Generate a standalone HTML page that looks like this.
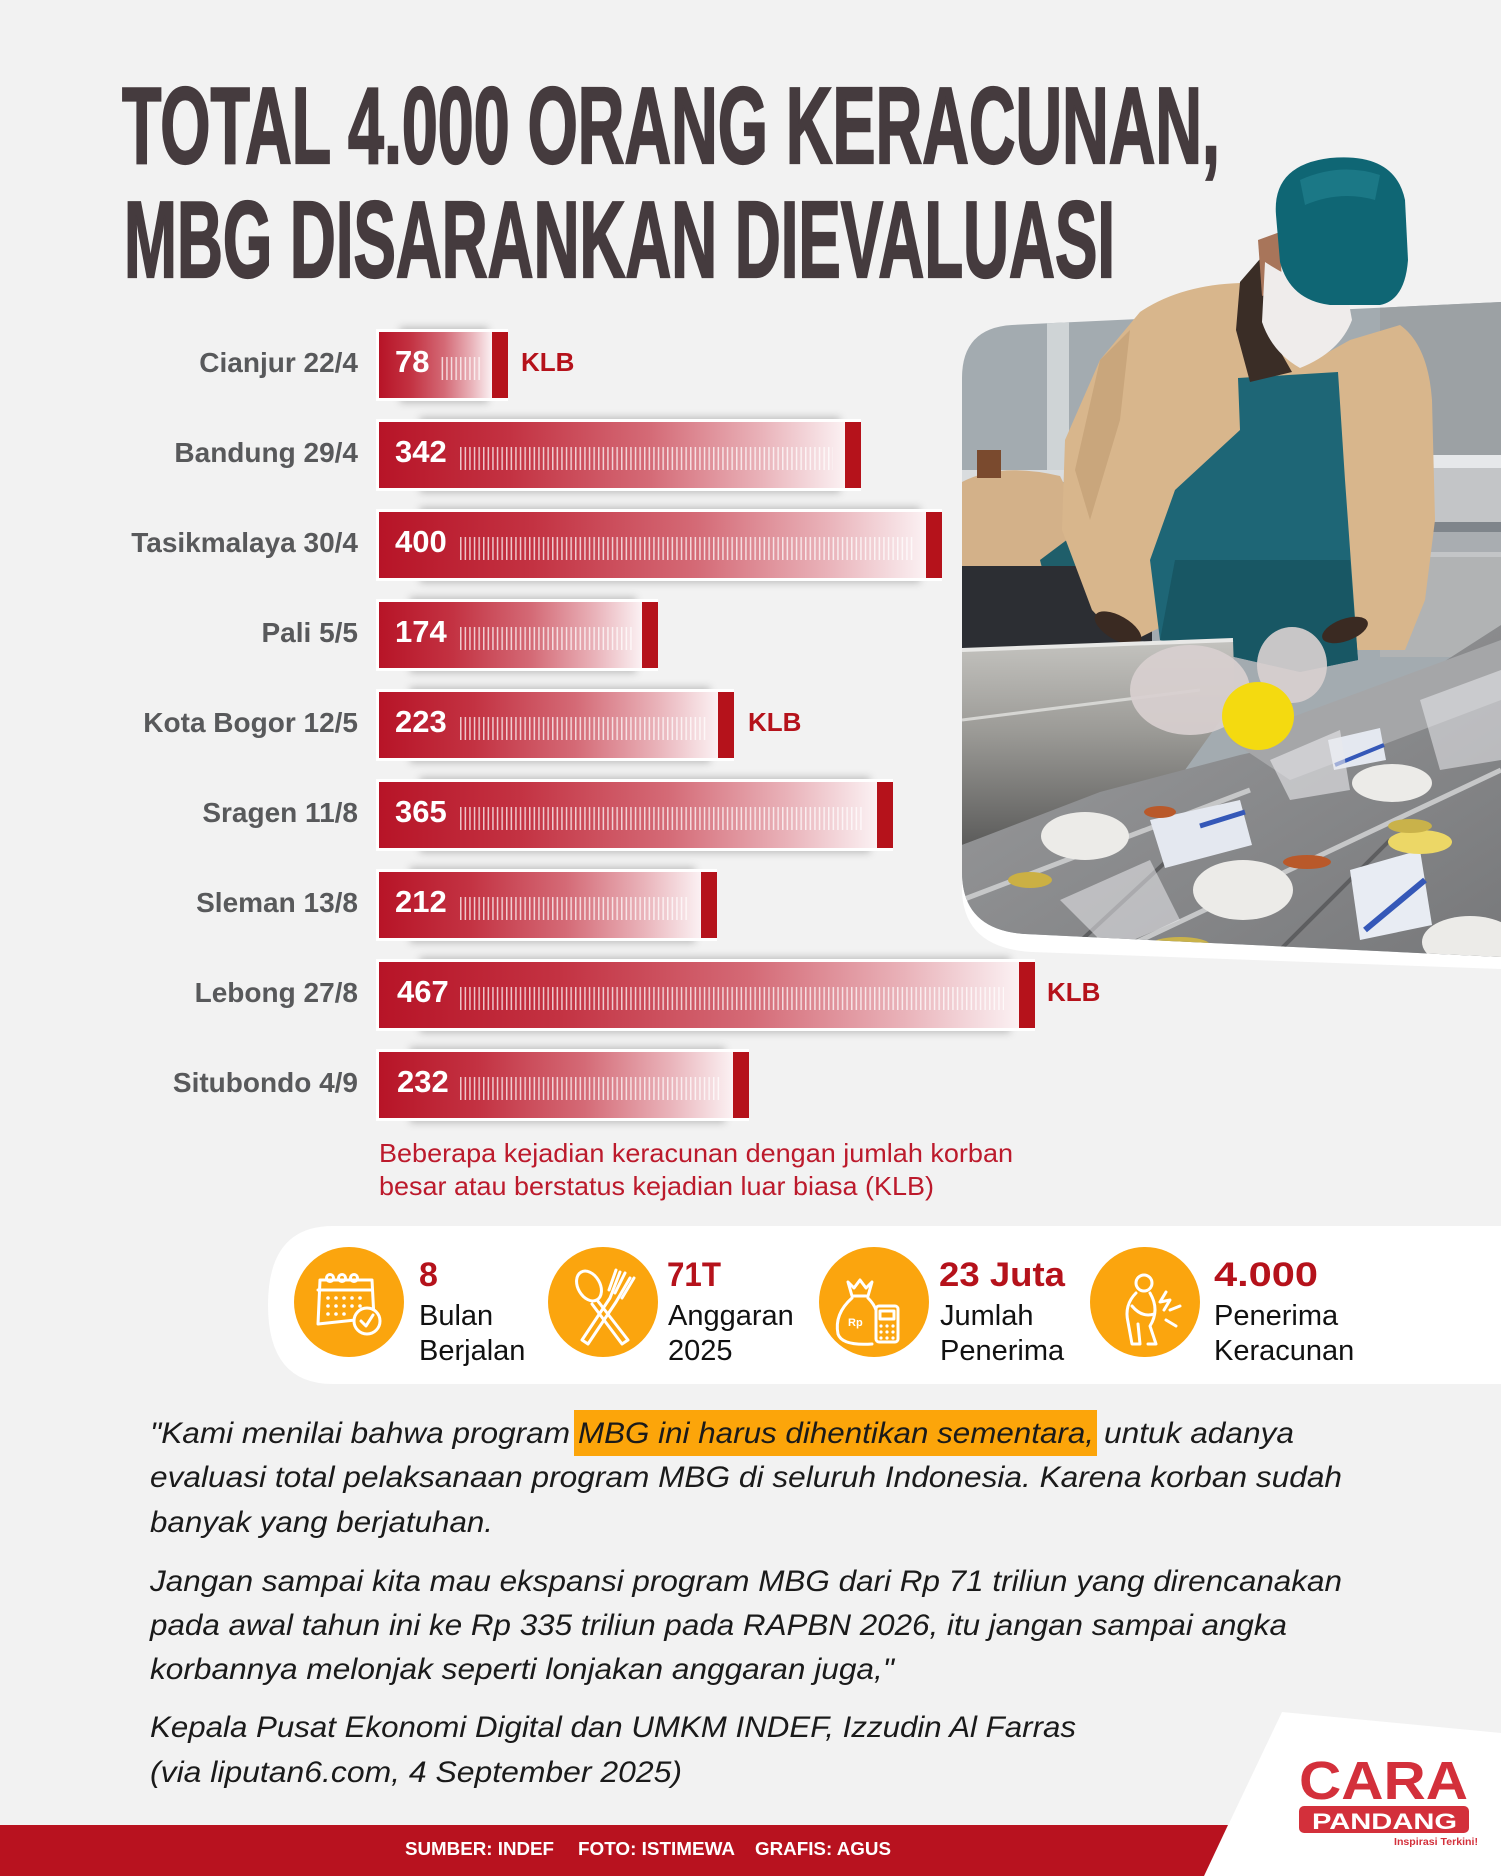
<!DOCTYPE html>
<html>
<head>
<meta charset="utf-8">
<style>
html,body{margin:0;padding:0;background:#f2f2f2;}
svg{display:block;}
</style>
</head>
<body>
<svg xmlns="http://www.w3.org/2000/svg" width="1501" height="1876" viewBox="0 0 1501 1876">
<defs>
  <linearGradient id="barg" x1="0" y1="0" x2="1" y2="0">
    <stop offset="0" stop-color="#b71427"/>
    <stop offset="0.28" stop-color="#c33242"/>
    <stop offset="0.58" stop-color="#d46a76"/>
    <stop offset="0.82" stop-color="#e9b2b9"/>
    <stop offset="1" stop-color="#fbf1f3"/>
  </linearGradient>
  <pattern id="ticks" patternUnits="userSpaceOnUse" x="0" y="0" width="4.6" height="1876">
    <rect x="0" y="0" width="1.5" height="1876" fill="#ffffff" fill-opacity="0.72"/>
  </pattern>
  <filter id="sh" x="-20%" y="-60%" width="140%" height="220%">
    <feGaussianBlur stdDeviation="4"/>
  </filter>
  <linearGradient id="pan" x1="0" y1="0" x2="0" y2="1">
    <stop offset="0" stop-color="#c4c3bf"/>
    <stop offset="0.45" stop-color="#9b9a96"/>
    <stop offset="1" stop-color="#5c5c5b"/>
  </linearGradient>
  <linearGradient id="tray" x1="0" y1="0" x2="1" y2="1">
    <stop offset="0" stop-color="#9d9ea0"/>
    <stop offset="1" stop-color="#77787a"/>
  </linearGradient>
  <clipPath id="ph">
    <path d="M1012,325 L1501,302 L1501,957 L1025,934 Q962,930 962,872 L962,378 Q962,328 1012,325 Z"/>
  </clipPath>
</defs>

<rect x="0" y="0" width="1501" height="1876" fill="#f2f2f2"/>

<!-- TITLE -->
<text x="122" y="163" font-family="Liberation Sans, sans-serif" font-weight="700" font-size="109" fill="#453b3e" stroke="#453b3e" stroke-width="2.2" textLength="1098" lengthAdjust="spacingAndGlyphs">TOTAL 4.000 ORANG KERACUNAN,</text>
<text x="124" y="277" font-family="Liberation Sans, sans-serif" font-weight="700" font-size="109" fill="#453b3e" stroke="#453b3e" stroke-width="2.2" textLength="991" lengthAdjust="spacingAndGlyphs">MBG DISARANKAN DIEVALUASI</text>

<!-- PHOTO -->
<path d="M1012,340 L1501,317 L1501,969 L1032,952 Q962,948 962,888 L962,392 Q962,342 1012,340 Z" fill="#ffffff"/>
<g clip-path="url(#ph)">
  <rect x="962" y="300" width="539" height="660" fill="#a3abb0"/>
  <rect x="1047" y="300" width="22" height="175" fill="#cfd4d6"/>
  <rect x="1380" y="300" width="121" height="160" fill="#9ca1a4"/>
  <rect x="1380" y="455" width="121" height="13" fill="#e6e8ea"/>
  <rect x="1380" y="468" width="121" height="90" fill="#c3c5c7"/>
  <rect x="1400" y="522" width="101" height="10" fill="#7f858b"/>
  <rect x="1395" y="532" width="106" height="20" fill="#a9adb1"/>
  <rect x="1380" y="557" width="121" height="100" fill="#b1b3b4"/>
  <rect x="962" y="470" width="180" height="12" fill="#d9dcde"/>
  <path d="M962,482 Q1000,462 1060,476 L1082,520 L1078,570 L962,570 Z" fill="#d3b189"/>
  <path d="M1040,560 L1080,530 L1090,600 L1060,640 Z" fill="#1f5e6a"/>
  <rect x="977" y="450" width="24" height="28" fill="#7a4a2e"/>
  <rect x="962" y="566" width="190" height="90" fill="#2c2e33"/>
</g>

<!-- person (head above photo) -->
<path d="M1140,312 Q1180,285 1240,283 L1262,300 L1300,368 L1350,340 L1400,325 Q1428,345 1432,400 L1435,520 L1425,600 L1405,650 L1345,650 L1335,560 L1300,520 L1240,500 L1180,560 L1165,625 L1125,645 L1092,610 L1062,530 L1065,440 L1100,360 Z" fill="#d8b68c"/>
<path d="M1100,360 L1130,330 L1120,420 L1090,520 L1075,470 Z" fill="#c9a67c"/>
<path d="M1238,378 L1338,372 L1345,480 L1358,660 L1300,672 L1160,640 L1150,560 L1175,490 L1240,430 Z" fill="#1e6676"/>
<path d="M1175,560 L1350,560 L1358,660 L1300,672 L1160,640 Z" fill="#185764"/>
<ellipse cx="1118" cy="628" rx="26" ry="12" fill="#3a2a22" transform="rotate(30 1118 628)"/>
<ellipse cx="1345" cy="630" rx="24" ry="11" fill="#3a2a22" transform="rotate(-20 1345 630)"/>
<path d="M1240,282 L1266,252 L1268,330 L1292,372 L1250,382 L1236,330 Z" fill="#3a2d26"/>
<path d="M1258,240 L1280,232 L1282,290 L1262,296 Z" fill="#a8755a"/>
<path d="M1265,262 Q1300,285 1348,298 L1352,320 Q1340,352 1300,368 Q1272,352 1262,322 Z" fill="#efeceb"/>
<path d="M1276,215 Q1272,165 1330,158 Q1395,152 1405,200 L1408,260 Q1405,300 1380,305 L1330,305 Q1290,300 1280,262 Z" fill="#0f6674"/>
<path d="M1300,180 Q1340,162 1380,175 L1375,200 Q1340,190 1305,205 Z" fill="#1b7886"/>

<!-- foreground -->
<g clip-path="url(#ph)">
  <path d="M962,650 L1233,640 L1235,700 L1185,770 L1100,795 L962,845 Z" fill="url(#pan)"/>
  <path d="M962,650 L1233,640" stroke="#e8e8e6" stroke-width="4"/>
  <path d="M962,720 L1200,690" stroke="#d6d6d3" stroke-width="3"/>
  <path d="M962,845 L1100,792 L1240,755 L1330,735 L1501,625 L1501,960 L962,960 Z" fill="url(#tray)"/>
  <path d="M1230,740 L1501,640 L1501,700 L1290,780 Z" fill="#a5a6a8"/>
  <path d="M962,900 L1250,790" stroke="#c6c7c8" stroke-width="5"/>
  <path d="M1120,950 L1501,770" stroke="#c6c7c8" stroke-width="5"/>
  <path d="M1060,960 L1200,830" stroke="#5d5e60" stroke-width="4"/>
  <path d="M1270,960 L1390,840" stroke="#5d5e60" stroke-width="4"/>
  <ellipse cx="1085" cy="836" rx="44" ry="24" fill="#ecebe8"/>
  <ellipse cx="1243" cy="890" rx="50" ry="30" fill="#ecebe8"/>
  <ellipse cx="1392" cy="783" rx="40" ry="19" fill="#ecebe8"/>
  <ellipse cx="1470" cy="942" rx="48" ry="26" fill="#ecebe8"/>
  <path d="M1150,820 L1240,800 L1252,845 L1165,868 Z" fill="#e4e8f0"/>
  <path d="M1200,826 L1245,812" stroke="#3558b8" stroke-width="5"/>
  <path d="M1350,870 L1420,850 L1432,925 L1360,940 Z" fill="#e8ecf3"/>
  <path d="M1365,930 L1425,880" stroke="#3558b8" stroke-width="6"/>
  <path d="M1328,740 L1380,728 L1386,760 L1334,770 Z" fill="#e4e8f0"/>
  <path d="M1335,765 L1384,745" stroke="#3558b8" stroke-width="4"/>
  <ellipse cx="1420" cy="842" rx="32" ry="12" fill="#ecd766"/>
  <ellipse cx="1030" cy="880" rx="22" ry="8" fill="#cbb044"/>
  <ellipse cx="1180" cy="945" rx="30" ry="8" fill="#c9b24a"/>
  <ellipse cx="1307" cy="862" rx="24" ry="7" fill="#b9592a"/>
  <ellipse cx="1160" cy="812" rx="16" ry="6" fill="#b9592a"/>
  <ellipse cx="1410" cy="826" rx="22" ry="7" fill="#c9b24a"/>
  <path d="M1060,900 L1150,860 L1180,920 L1110,950 Z" fill="#e9eaec" fill-opacity="0.55"/>
  <path d="M1420,700 L1501,670 L1501,760 L1440,770 Z" fill="#e9eaec" fill-opacity="0.55"/>
  <path d="M1270,760 L1340,730 L1350,790 L1290,800 Z" fill="#e9eaec" fill-opacity="0.6"/>
  <ellipse cx="1190" cy="690" rx="60" ry="45" fill="#d8cfcf" fill-opacity="0.92"/>
  <ellipse cx="1292" cy="665" rx="35" ry="38" fill="#d8cfcf" fill-opacity="0.92"/>
  <ellipse cx="1258" cy="716" rx="36" ry="34" fill="#f4da10"/>
</g>

<!-- BARS -->
<g font-family="Liberation Sans, sans-serif">
  <!-- row template: top, R -->
  <!-- 0 -->
  <rect x="400" y="327" width="88" height="76" fill="#000" fill-opacity="0.22" filter="url(#sh)"/>
  <rect x="376" y="329" width="132" height="72" fill="#ffffff"/>
  <rect x="379" y="332" width="113" height="66" fill="url(#barg)"/>
  <rect x="439" y="357" width="44" height="23" fill="url(#ticks)"/>
  <rect x="492" y="332" width="16" height="66" fill="#b5121b"/>
  <text x="395" y="372" font-size="31" font-weight="700" fill="#ffffff">78</text>
  <text x="358" y="372" font-size="28" font-weight="700" fill="#58595b" text-anchor="end">Cianjur 22/4</text>
  <text x="521" y="371" font-size="26" font-weight="700" fill="#b5121b">KLB</text>

  <!-- 1 -->
  <rect x="420" y="417" width="420" height="76" fill="#000" fill-opacity="0.22" filter="url(#sh)"/>
  <rect x="376" y="419" width="485" height="72" fill="#ffffff"/>
  <rect x="379" y="422" width="466" height="66" fill="url(#barg)"/>
  <rect x="459" y="447" width="374" height="23" fill="url(#ticks)"/>
  <rect x="845" y="422" width="16" height="66" fill="#b5121b"/>
  <text x="395" y="462" font-size="31" font-weight="700" fill="#ffffff">342</text>
  <text x="358" y="462" font-size="28" font-weight="700" fill="#58595b" text-anchor="end">Bandung 29/4</text>

  <!-- 2 -->
  <rect x="420" y="507" width="500" height="76" fill="#000" fill-opacity="0.22" filter="url(#sh)"/>
  <rect x="376" y="509" width="566" height="72" fill="#ffffff"/>
  <rect x="379" y="512" width="547" height="66" fill="url(#barg)"/>
  <rect x="459" y="537" width="454" height="23" fill="url(#ticks)"/>
  <rect x="926" y="512" width="16" height="66" fill="#b5121b"/>
  <text x="395" y="552" font-size="31" font-weight="700" fill="#ffffff">400</text>
  <text x="358" y="552" font-size="28" font-weight="700" fill="#58595b" text-anchor="end">Tasikmalaya 30/4</text>

  <!-- 3 -->
  <rect x="410" y="597" width="226" height="76" fill="#000" fill-opacity="0.22" filter="url(#sh)"/>
  <rect x="376" y="599" width="282" height="72" fill="#ffffff"/>
  <rect x="379" y="602" width="263" height="66" fill="url(#barg)"/>
  <rect x="459" y="627" width="175" height="23" fill="url(#ticks)"/>
  <rect x="642" y="602" width="16" height="66" fill="#b5121b"/>
  <text x="395" y="642" font-size="31" font-weight="700" fill="#ffffff">174</text>
  <text x="358" y="642" font-size="28" font-weight="700" fill="#58595b" text-anchor="end">Pali 5/5</text>

  <!-- 4 -->
  <rect x="410" y="687" width="300" height="76" fill="#000" fill-opacity="0.22" filter="url(#sh)"/>
  <rect x="376" y="689" width="358" height="72" fill="#ffffff"/>
  <rect x="379" y="692" width="339" height="66" fill="url(#barg)"/>
  <rect x="459" y="717" width="248" height="23" fill="url(#ticks)"/>
  <rect x="718" y="692" width="16" height="66" fill="#b5121b"/>
  <text x="395" y="732" font-size="31" font-weight="700" fill="#ffffff">223</text>
  <text x="358" y="732" font-size="28" font-weight="700" fill="#58595b" text-anchor="end">Kota Bogor 12/5</text>
  <text x="748" y="731" font-size="26" font-weight="700" fill="#b5121b">KLB</text>

  <!-- 5 -->
  <rect x="420" y="777" width="450" height="76" fill="#000" fill-opacity="0.22" filter="url(#sh)"/>
  <rect x="376" y="779" width="517" height="72" fill="#ffffff"/>
  <rect x="379" y="782" width="498" height="66" fill="url(#barg)"/>
  <rect x="459" y="807" width="405" height="23" fill="url(#ticks)"/>
  <rect x="877" y="782" width="16" height="66" fill="#b5121b"/>
  <text x="395" y="822" font-size="31" font-weight="700" fill="#ffffff">365</text>
  <text x="358" y="822" font-size="28" font-weight="700" fill="#58595b" text-anchor="end">Sragen 11/8</text>

  <!-- 6 -->
  <rect x="410" y="867" width="285" height="76" fill="#000" fill-opacity="0.22" filter="url(#sh)"/>
  <rect x="376" y="869" width="341" height="72" fill="#ffffff"/>
  <rect x="379" y="872" width="322" height="66" fill="url(#barg)"/>
  <rect x="459" y="897" width="230" height="23" fill="url(#ticks)"/>
  <rect x="701" y="872" width="16" height="66" fill="#b5121b"/>
  <text x="395" y="912" font-size="31" font-weight="700" fill="#ffffff">212</text>
  <text x="358" y="912" font-size="28" font-weight="700" fill="#58595b" text-anchor="end">Sleman 13/8</text>

  <!-- 7 -->
  <rect x="420" y="957" width="590" height="76" fill="#000" fill-opacity="0.22" filter="url(#sh)"/>
  <rect x="376" y="959" width="659" height="72" fill="#ffffff"/>
  <rect x="379" y="962" width="640" height="66" fill="url(#barg)"/>
  <rect x="459" y="987" width="545" height="23" fill="url(#ticks)"/>
  <rect x="1019" y="962" width="16" height="66" fill="#b5121b"/>
  <text x="397" y="1002" font-size="31" font-weight="700" fill="#ffffff">467</text>
  <text x="358" y="1002" font-size="28" font-weight="700" fill="#58595b" text-anchor="end">Lebong 27/8</text>
  <text x="1047" y="1001" font-size="26" font-weight="700" fill="#b5121b">KLB</text>

  <!-- 8 -->
  <rect x="410" y="1047" width="315" height="76" fill="#000" fill-opacity="0.22" filter="url(#sh)"/>
  <rect x="376" y="1049" width="373" height="72" fill="#ffffff"/>
  <rect x="379" y="1052" width="354" height="66" fill="url(#barg)"/>
  <rect x="459" y="1077" width="262" height="23" fill="url(#ticks)"/>
  <rect x="733" y="1052" width="16" height="66" fill="#b5121b"/>
  <text x="397" y="1092" font-size="31" font-weight="700" fill="#ffffff">232</text>
  <text x="358" y="1092" font-size="28" font-weight="700" fill="#58595b" text-anchor="end">Situbondo 4/9</text>
</g>

<!-- caption -->
<g font-family="Liberation Sans, sans-serif" font-size="26" fill="#bc1a2c">
  <text x="379" y="1162" textLength="634" lengthAdjust="spacingAndGlyphs">Beberapa kejadian keracunan dengan jumlah korban</text>
  <text x="379" y="1195" textLength="555" lengthAdjust="spacingAndGlyphs">besar atau berstatus kejadian luar biasa (KLB)</text>
</g>

<!-- STATS PANEL -->
<path d="M333,1226 L1501,1226 L1501,1384 L333,1384 Q268,1384 268,1305 Q268,1226 333,1226 Z" fill="#ffffff"/>
<g fill="#fba50e">
  <circle cx="349" cy="1302" r="55"/>
  <circle cx="603" cy="1302" r="55"/>
  <circle cx="874" cy="1302" r="55"/>
  <circle cx="1145" cy="1302" r="55"/>
</g>
<!-- icon 1 calendar -->
<g fill="none" stroke="#ffffff" stroke-width="3" stroke-linecap="round" stroke-linejoin="round">
  <path d="M320,1280 L372,1280 L374,1318 L318,1324 Z"/>
  <path d="M318,1290 L372,1290"/>
  <circle cx="330" cy="1278" r="3.5"/>
  <circle cx="342" cy="1278" r="3.5"/>
  <circle cx="354" cy="1278" r="3.5"/>
  <circle cx="367" cy="1321" r="13" fill="#fba50e"/>
  <path d="M361,1321 L366,1326 L373,1315"/>
</g>
<g fill="#ffffff">
  <circle cx="328" cy="1298" r="1.8"/><circle cx="336" cy="1298" r="1.8"/><circle cx="344" cy="1298" r="1.8"/><circle cx="352" cy="1298" r="1.8"/><circle cx="360" cy="1298" r="1.8"/>
  <circle cx="328" cy="1306" r="1.8"/><circle cx="336" cy="1306" r="1.8"/><circle cx="344" cy="1306" r="1.8"/><circle cx="352" cy="1306" r="1.8"/><circle cx="360" cy="1306" r="1.8"/>
  <circle cx="328" cy="1314" r="1.8"/><circle cx="336" cy="1314" r="1.8"/><circle cx="344" cy="1314" r="1.8"/>
</g>
<!-- icon 2 spoon & fork -->
<g fill="none" stroke="#ffffff" stroke-width="3" stroke-linecap="round" stroke-linejoin="round">
  <ellipse cx="589" cy="1286" rx="11" ry="16" transform="rotate(-30 589 1286)"/>
  <path d="M597,1300 L628,1340 L622,1344 L592,1304"/>
  <path d="M620,1272 L610,1298 L582,1340 L588,1344 L616,1302 L630,1278"/>
  <path d="M616,1270 L609,1290"/>
  <path d="M625,1273 L615,1293"/>
  <path d="M634,1278 L622,1298"/>
</g>
<!-- icon 3 money bag + calculator -->
<g fill="none" stroke="#ffffff" stroke-width="3" stroke-linecap="round" stroke-linejoin="round">
  <path d="M848,1282 L854,1288 L860,1280 L866,1288 L872,1282 L868,1296 L852,1296 Z"/>
  <path d="M852,1298 Q834,1314 838,1334 Q842,1346 872,1344"/>
  <path d="M868,1298 Q874,1304 876,1310"/>
  <rect x="876" y="1306" width="22" height="36" rx="3"/>
  <rect x="880" y="1311" width="14" height="8"/>
</g>
<g fill="#ffffff">
  <circle cx="881" cy="1326" r="1.6"/><circle cx="887" cy="1326" r="1.6"/><circle cx="893" cy="1326" r="1.6"/>
  <circle cx="881" cy="1332" r="1.6"/><circle cx="887" cy="1332" r="1.6"/><circle cx="893" cy="1332" r="1.6"/>
  <circle cx="881" cy="1338" r="1.6"/><circle cx="887" cy="1338" r="1.6"/><circle cx="893" cy="1338" r="1.6"/>
  <text x="848" y="1326" font-family="Liberation Sans, sans-serif" font-size="11" font-weight="700">Rp</text>
</g>
<!-- icon 4 person in pain -->
<g fill="none" stroke="#ffffff" stroke-width="3" stroke-linecap="round" stroke-linejoin="round">
  <circle cx="1144" cy="1283" r="8"/>
  <path d="M1136,1293 Q1124,1305 1128,1322 L1132,1344 L1140,1344 L1138,1324"/>
  <path d="M1150,1293 Q1160,1310 1150,1326 L1156,1344 L1148,1344"/>
  <path d="M1132,1306 Q1142,1318 1154,1314"/>
  <path d="M1166,1292 L1160,1302 L1170,1300 L1164,1310"/>
  <path d="M1170,1310 L1180,1306"/>
  <path d="M1166,1320 L1176,1326"/>
</g>
<!-- stat texts -->
<g font-family="Liberation Sans, sans-serif">
  <text x="419" y="1286" font-size="34" font-weight="700" fill="#b5121b">8</text>
  <text x="419" y="1325" font-size="29" fill="#111111">Bulan</text>
  <text x="419" y="1360" font-size="29" fill="#111111">Berjalan</text>
  <text x="667" y="1286" font-size="34" font-weight="700" fill="#b5121b" textLength="54" lengthAdjust="spacingAndGlyphs">71T</text>
  <text x="668" y="1325" font-size="29" fill="#111111">Anggaran</text>
  <text x="668" y="1360" font-size="29" fill="#111111">2025</text>
  <text x="939" y="1286" font-size="34" font-weight="700" fill="#b5121b" textLength="126" lengthAdjust="spacingAndGlyphs">23 Juta</text>
  <text x="940" y="1325" font-size="29" fill="#111111">Jumlah</text>
  <text x="940" y="1360" font-size="29" fill="#111111">Penerima</text>
  <text x="1214" y="1286" font-size="34" font-weight="700" fill="#b5121b" textLength="104" lengthAdjust="spacingAndGlyphs">4.000</text>
  <text x="1214" y="1325" font-size="29" fill="#111111">Penerima</text>
  <text x="1214" y="1360" font-size="29" fill="#111111">Keracunan</text>
</g>

<!-- QUOTE -->
<rect x="574" y="1410" width="523" height="46" fill="#fca50a"/>
<g font-family="Liberation Sans, sans-serif" font-size="30" font-style="italic" fill="#1a1a1a">
  <text x="150" y="1443" textLength="420" lengthAdjust="spacingAndGlyphs">"Kami menilai bahwa program</text>
  <text x="578" y="1443" textLength="516" lengthAdjust="spacingAndGlyphs">MBG ini harus dihentikan sementara,</text>
  <text x="1104" y="1443" textLength="190" lengthAdjust="spacingAndGlyphs">untuk adanya</text>
  <text x="150" y="1487" textLength="1192" lengthAdjust="spacingAndGlyphs">evaluasi total pelaksanaan program MBG di seluruh Indonesia. Karena korban sudah</text>
  <text x="150" y="1532" textLength="343" lengthAdjust="spacingAndGlyphs">banyak yang berjatuhan.</text>
  <text x="150" y="1591" textLength="1192" lengthAdjust="spacingAndGlyphs">Jangan sampai kita mau ekspansi program MBG dari Rp 71 triliun yang direncanakan</text>
  <text x="150" y="1635" textLength="1137" lengthAdjust="spacingAndGlyphs">pada awal tahun ini ke Rp 335 triliun pada RAPBN 2026, itu jangan sampai angka</text>
  <text x="150" y="1679" textLength="744" lengthAdjust="spacingAndGlyphs">korbannya melonjak seperti lonjakan anggaran juga,"</text>
  <text x="150" y="1737" textLength="926" lengthAdjust="spacingAndGlyphs">Kepala Pusat Ekonomi Digital dan UMKM INDEF, Izzudin Al Farras</text>
  <text x="150" y="1782" textLength="532" lengthAdjust="spacingAndGlyphs">(via liputan6.com, 4 September 2025)</text>
</g>

<!-- FOOTER -->
<path d="M1282,1712 L1501,1733 L1501,1876 L1204,1876 Z" fill="#ffffff"/>
<path d="M0,1825 L1228,1825 L1204,1876 L0,1876 Z" fill="#b8121f"/>
<g font-family="Liberation Sans, sans-serif" font-size="18" font-weight="700" fill="#ffffff">
  <text x="405" y="1855" textLength="149" lengthAdjust="spacingAndGlyphs">SUMBER: INDEF</text>
  <text x="578" y="1855" textLength="157" lengthAdjust="spacingAndGlyphs">FOTO: ISTIMEWA</text>
  <text x="755" y="1855" textLength="136" lengthAdjust="spacingAndGlyphs">GRAFIS: AGUS</text>
</g>
<!-- LOGO -->
<g font-family="Liberation Sans, sans-serif" font-weight="700">
  <text x="1299" y="1799" font-size="54" fill="#d3303b" textLength="169" lengthAdjust="spacingAndGlyphs">CARA</text>
  <rect x="1299" y="1806" width="170" height="27" rx="5" fill="#d3303b"/>
  <text x="1312" y="1829" font-size="22" fill="#ffffff" textLength="145" lengthAdjust="spacingAndGlyphs">PANDANG</text>
  <text x="1394" y="1845" font-size="10" fill="#d3303b" textLength="84" lengthAdjust="spacingAndGlyphs">Inspirasi Terkini!</text>
</g>
</svg>
</body>
</html>
